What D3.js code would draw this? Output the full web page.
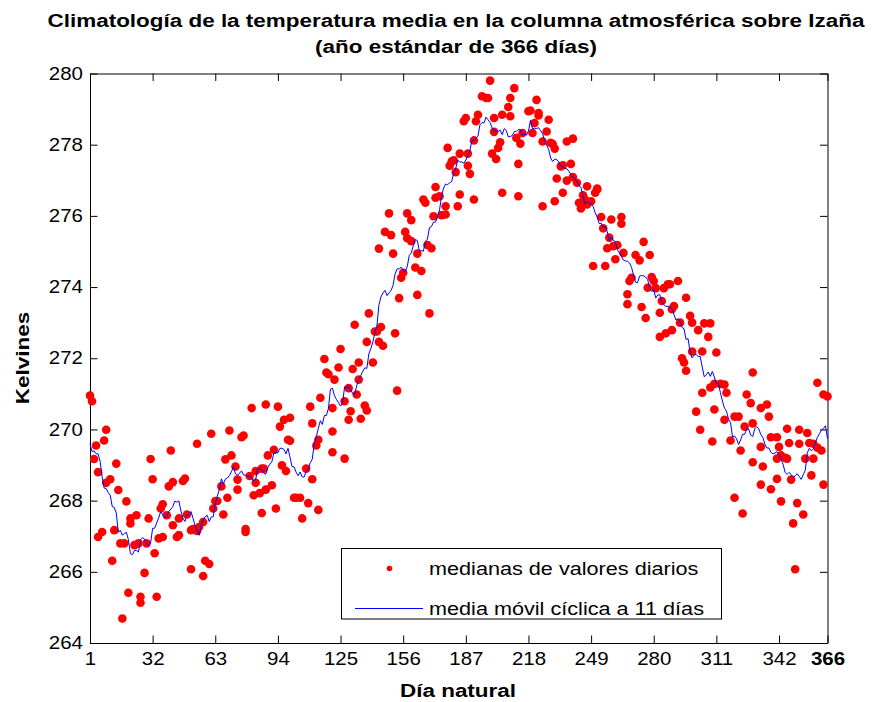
<!DOCTYPE html>
<html><head><meta charset="utf-8">
<script src="https://cdn.jsdelivr.net/npm/d3@7"></script>
<style>
body{margin:0;background:#fff}
svg{display:block}
text{font-family:"Liberation Sans",Arial,Helvetica,sans-serif;fill:#000}
</style>
</head><body>
<svg id="chart" width="878" height="702"></svg>
<script>
// ---------------- data ----------------
const days = [
  1,2,3,4,5,5,7,8,9,9,11,12,13,14,15,16,17,18,19,20,21,21,23,24,25,26,26,28,29,30,31,32,33,34,35,36,37,37,39,40,41,42,42,44,45,45,
  47,48,49,51,51,52,54,54,55,57,57,58,60,61,62,63,64,66,67,68,69,70,71,73,74,74,76,77,78,78,80,81,82,83,83,85,86,86,87,88,88,89,
  91,92,93,94,95,96,97,98,99,100,100,102,103,105,106,108,109,110,111,111,113,114,114,115,117,118,119,121,121,121,122,124,125,127,127,129,129,130,131,132,133,134,134,
  135,137,138,138,139,141,142,143,144,144,145,146,147,149,150,151,152,153,154,155,156,157,158,158,160,160,162,163,163,165,166,167,168,169,170,171,172,172,174,175,177,177,
  178,179,180,181,182,183,184,184,186,187,188,188,189,191,191,192,193,195,197,198,199,200,201,201,202,203,204,205,205,208,209,209,211,212,213,213,214,215,218,219,220,221,222,223,
  223,225,225,227,228,229,230,231,231,232,234,235,235,237,237,239,240,240,242,243,244,245,246,247,247,249,250,251,252,252,254,255,256,257,258,259,260,262,261,264,264,265,267,268,
  267,269,271,273,274,275,276,277,278,279,280,281,283,283,284,285,286,287,288,289,289,290,292,293,294,295,296,296,298,299,299,301,302,303,304,304,305,307,308,308,309,310,310,311,
  313,315,315,316,318,320,320,322,323,324,325,326,328,329,329,329,333,333,333,334,336,337,338,338,341,341,341,342,343,343,345,346,346,347,348,349,350,351,352,352,354,355,356,357,358,359,359,361,361,363,364,364,366
];
const medians = [
  270.95,270.79,269.17,269.55,268.80,266.98,267.12,269.69,269.99,268.50,268.60,266.31,267.17,269.04,268.30,266.80,264.69,266.80,267.98,265.41,267.50,267.36,266.75,267.59,266.80,265.13,265.30,265.97,266.80,267.50,269.17,268.60,266.52,265.30,266.94,267.78,266.98,267.90,267.59,268.40,269.41,268.52,267.31,266.98,267.50,267.03,
  268.55,268.62,267.61,267.17,266.07,267.20,269.60,267.15,267.26,265.88,267.40,266.31,266.22,269.88,267.78,267.99,267.99,268.40,267.61,269.16,268.08,269.97,269.27,268.96,268.59,268.31,269.78,269.83,267.12,267.20,268.69,270.60,268.15,268.50,268.83,268.21,268.90,267.65,268.90,270.70,268.31,269.27,
  268.43,269.43,267.78,270.64,270.08,268.99,270.27,268.83,269.71,269.68,270.33,268.08,268.08,268.08,267.50,268.90,267.93,270.64,268.60,270.17,269.55,267.74,269.71,270.89,271.98,271.60,271.55,269.94,270.60,269.36,271.40,271.74,272.26,269.18,270.79,271.16,270.27,270.51,271.70,272.94,270.98,271.88,271.40,
  270.30,270.67,270.53,272.46,273.26,271.88,272.75,272.75,272.46,275.08,272.88,272.35,275.55,276.07,275.46,274.94,272.70,271.09,273.69,274.26,274.40,275.55,276.07,275.37,275.88,275.29,274.55,274.94,273.78,274.45,276.46,276.37,275.18,273.26,275.09,275.99,276.51,276.81,276.55,276.02,276.04,276.27,
  277.91,277.41,277.53,277.56,277.23,276.27,276.60,277.75,278.66,278.75,277.41,277.75,277.18,276.46,278.12,278.66,278.84,279.36,279.31,279.31,279.80,277.75,278.75,278.36,277.60,277.91,278.07,276.65,278.84,279.06,278.80,279.31,279.59,278.19,277.46,276.55,278.03,278.33,278.94,278.96,278.33,278.61,279.26,278.89,
  278.82,278.09,276.27,278.37,278.70,278.05,278.02,277.89,276.41,277.05,277.39,277.42,276.65,278.09,276.99,277.46,278.17,277.09,276.93,276.37,276.21,276.58,276.46,276.32,276.83,276.41,274.59,276.65,276.77,276.74,275.97,275.65,274.59,275.09,275.39,275.90,275.15,275.18,274.78,275.78,275.97,274.96,273.80,274.17,
  273.52,274.26,274.90,274.75,273.44,275.27,273.13,273.98,274.90,274.28,274.17,273.97,272.60,273.28,273.61,273.97,272.70,274.08,274.08,273.38,272.79,273.47,274.17,273.00,272.00,271.88,271.65,273.70,273.19,273.00,272.19,270.50,272.79,269.99,271.03,272.19,272.98,272.60,272.98,271.18,269.66,271.28,270.56,272.16,
  271.28,271.26,270.27,271.03,269.69,270.36,268.08,270.36,269.41,267.64,270.08,270.98,270.74,269.08,271.60,270.17,270.60,268.45,269.51,268.96,270.70,270.36,268.32,269.78,269.78,268.61,269.18,269.51,267.98,269.27,269.20,270.02,269.18,269.62,268.59,267.36,266.07,267.93,269.60,269.99,267.61,269.18,269.90,269.62,268.71,269.60,269.18,269.49,271.31,269.41,268.45,270.98,270.93
];
const yearLength = 366;
const windowDays = 11;
const xTickValues = [1,32,63,94,125,156,187,218,249,280,311,342,366];
const yTickValues = [264,266,268,270,272,274,276,278,280];
const titleLines = ["Climatología de la temperatura media en la columna atmosférica sobre Izaña",
                    "(año estándar de 366 días)"];
const xLabel = "Día natural";
const yLabel = "Kelvines";
const legendLabels = ["medianas de valores diarios", "media móvil cíclica a 11 días"];

// ---------------- cyclic moving average of the medians ----------------
const half = (windowDays - 1) / 2;
const avgDays = d3.range(1, yearLength + 1);
const movingAvg = avgDays.map(d => {
  const vals = [];
  days.forEach((dd, i) => {
    let diff = Math.abs(dd - d);
    diff = Math.min(diff, yearLength - diff);
    if (diff <= half) vals.push(medians[i]);
  });
  return d3.mean(vals);
});

// ---------------- layout ----------------
const L = 90, R = 827.5, T = 73.5, B = 643;
const SX = 1.17;
const svg = d3.select("#chart");
svg.append("rect").attr("width", 878).attr("height", 702).attr("fill", "#fff");

const x = d3.scaleLinear().domain([1, 366]).range([L, R]);
const y = d3.scaleLinear().domain([264, 280]).range([B, T]);

// axes (inward ticks on all four sides)
const tick = 7.5;
const gB = svg.append("g").attr("transform", `translate(0,${B})`)
  .call(d3.axisBottom(x).tickValues(xTickValues).tickSize(-tick).tickSizeOuter(0).tickPadding(10).tickFormat(d3.format("d")));
const gT = svg.append("g").attr("transform", `translate(0,${T})`)
  .call(d3.axisTop(x).tickValues(xTickValues).tickSize(-tick).tickSizeOuter(0).tickFormat(""));
const gL = svg.append("g").attr("transform", `translate(${L},0)`)
  .call(d3.axisLeft(y).tickValues(yTickValues).tickSize(-tick).tickSizeOuter(0).tickPadding(6).tickFormat(d3.format("d")));
const gR = svg.append("g").attr("transform", `translate(${R},0)`)
  .call(d3.axisRight(y).tickValues(yTickValues).tickSize(-tick).tickSizeOuter(0).tickFormat(""));
[gB, gT, gL, gR].forEach(g => {
  g.selectAll("path.domain").attr("stroke", "#000").attr("stroke-width", 1);
  g.selectAll(".tick line").attr("stroke", "#000").attr("stroke-width", 1);
  g.selectAll("text").attr("font-size", 17.5).attr("fill", "#000")
    .attr("font-family", '"Liberation Sans",Arial,sans-serif')
    .attr("transform", `scale(${SX},1)`);
});
gB.selectAll(".tick text").filter(d => d === 366).attr("font-weight", "bold");

// dots
svg.append("g").selectAll("circle").data(days).join("circle")
  .attr("cx", d => x(d))
  .attr("cy", (d, i) => y(medians[i]))
  .attr("r", 4.3)
  .attr("fill", "#ff0000");

// moving average line
svg.append("path")
  .datum(avgDays)
  .attr("fill", "none")
  .attr("stroke", "#0000ff")
  .attr("stroke-width", 1)
  .attr("d", d3.line().x(d => x(d)).y((d, i) => y(movingAvg[i])));

// text helper
function label(txt, px, py, size, weight, anchor, rot) {
  return svg.append("text").text(txt)
    .attr("font-size", size).attr("font-weight", weight)
    .attr("text-anchor", anchor)
    .attr("transform", `translate(${px},${py})` + (rot ? ` rotate(${rot})` : "") + ` scale(${SX},1)`);
}
label(titleLines[0], 456, 27, 19.2, "bold", "middle");
label(titleLines[1], 456, 53, 19.2, "bold", "middle");
label(xLabel, 458, 697, 19.2, "bold", "middle");
label(yLabel, 29, 358, 19.2, "bold", "middle", -90);

// legend
const lg = svg.append("g");
lg.append("rect").attr("x", 341.5).attr("y", 548.5).attr("width", 380).attr("height", 70.5)
  .attr("fill", "#fff").attr("stroke", "#000").attr("stroke-width", 1);
lg.append("circle").attr("cx", 389.5).attr("cy", 568.5).attr("r", 2.8).attr("fill", "#ff0000");
lg.append("line").attr("x1", 355).attr("x2", 423).attr("y1", 608.5).attr("y2", 608.5)
  .attr("stroke", "#0000ff").attr("stroke-width", 1);
label(legendLabels[0], 429, 575, 18.5, "normal", "start");
label(legendLabels[1], 429, 615, 18.5, "normal", "start");
</script>
</body></html>
